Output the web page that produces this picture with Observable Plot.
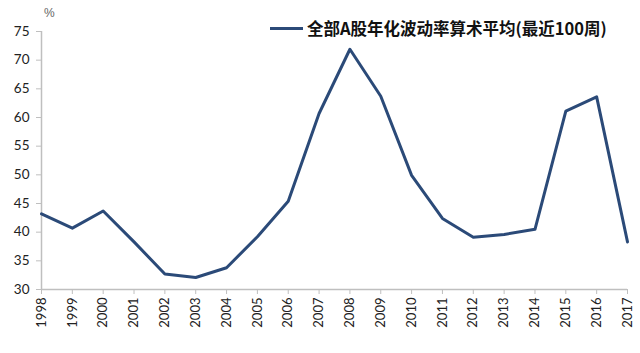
<!DOCTYPE html>
<html><head><meta charset="utf-8">
<script src="https://cdn.jsdelivr.net/npm/d3@7"></script>
<script src="https://cdn.jsdelivr.net/npm/@observablehq/plot@0.6"></script>
<style>
body{margin:0;background:#fff;}
#wrap{position:relative;width:640px;height:353px;}
#legend{position:absolute;left:270px;top:16px;font-family:"Noto Sans CJK SC",sans-serif;font-weight:bold;font-size:16.5px;color:#111;display:flex;align-items:center;white-space:nowrap;}
#legend span.sw{display:inline-block;width:33px;height:3px;background:#2b4a78;margin-right:4px;}
#unit{position:absolute;left:44px;top:6px;font-family:"Liberation Sans",sans-serif;font-size:12px;color:#666;}
</style></head>
<body><div id="wrap"><div id="unit">%</div><div id="legend"><span class="sw"></span>全部A股年化波动率算术平均(最近100周)</div></div>
<script>
const years = [1998,1999,2000,2001,2002,2003,2004,2005,2006,2007,2008,2009,2010,2011,2012,2013,2014,2015,2016,2017];
const vol = [43.2,40.7,43.7,38.3,32.7,32.1,33.8,39.2,45.4,60.7,71.9,63.7,49.9,42.4,39.1,39.6,40.5,61.1,63.6,38.3];
const yTicks = [30,35,40,45,50,55,60,65,70,75];
const seriesName = "全部A股年化波动率算术平均(最近100周)";
const data = years.map((y,i)=>({year:y, v:vol[i]}));
const chart = Plot.plot({
  width:640, height:353,
  marginLeft:41, marginRight:13, marginTop:31, marginBottom:64,
  style:{fontFamily:"Lato, 'Liberation Sans', sans-serif", fontSize:"13px", color:"#222", background:"transparent"},
  x:{domain:[1998,2017]},
  y:{domain:[30,75]},
  marks:[
    Plot.ruleX([1998],{y1:30,y2:75,stroke:"#bfbfbf",strokeWidth:1.5}),
    Plot.ruleY([30],{x1:1998,x2:2017,stroke:"#bfbfbf",strokeWidth:1.5}),
    Plot.axisY({ticks:yTicks, tickSize:5, tickPadding:7, stroke:"#bfbfbf", label:null, fontSize:13.5}),
    Plot.axisX({ticks:years, tickFormat:d=>String(d), tickSize:5, tickPadding:3, tickRotate:-90, stroke:"#bfbfbf", label:null, fontSize:13}),
    Plot.line(data,{x:"year",y:"v",stroke:"#2b4a78",strokeWidth:3,strokeLinejoin:"round"})
  ]
});
document.getElementById("wrap").prepend(chart);
chart.style.position="absolute";chart.style.left="0";chart.style.top="0";
</script></body></html>
